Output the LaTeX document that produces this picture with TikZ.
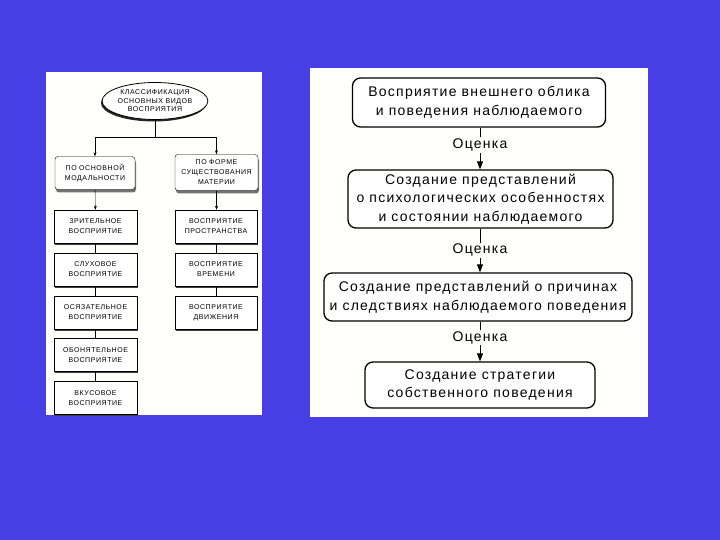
\documentclass[tikz,border=0pt]{standalone}
\usepackage{fontspec}
\setmainfont{Liberation Sans}
\newfontfamily\flowfont[LetterSpace=9]{Liberation Sans}
\newfontfamily\capsfont[LetterSpace=8]{Liberation Sans}
\usepackage{tikz}
\usetikzlibrary{shapes.geometric,arrows.meta,shadows}
\definecolor{slideblue}{RGB}{72,62,230}
\definecolor{sheetwhite}{RGB}{255,255,251}

\begin{document}
\begin{tikzpicture}[x=1pt,y=-1pt,
    classnode/.style={ellipse, draw, thick, fill=white, minimum width=100pt, minimum height=37pt,
        inner sep=0pt, align=center, font=\capsfont\fontsize{7}{8.5}\selectfont,
        drop shadow={shadow xshift=-1.2pt, shadow yshift=-2pt, fill=black!85, opacity=1}},
    groupbox/.style={rectangle, rounded corners=3pt, draw, fill=white, inner sep=0pt, align=center,
        font=\capsfont\fontsize{7}{10}\selectfont,
        drop shadow={shadow xshift=1pt, shadow yshift=-3pt, fill=black!55, opacity=1}},
    leafbox/.style={rectangle, draw, fill=white, minimum height=33pt, inner sep=0pt, align=center,
        font=\capsfont\fontsize{7}{10}\selectfont,
        drop shadow={shadow xshift=0.8pt, shadow yshift=-1.5pt, fill=black!75, opacity=1}},
    stagebox/.style={rectangle, rounded corners=8pt, draw, line width=1.3pt, fill=white, inner sep=0pt,
        align=center, font=\flowfont\fontsize{14}{18.5}\selectfont},
    marklabel/.style={fill=sheetwhite, inner sep=1.5pt, font=\flowfont\fontsize{14}{16}\selectfont},
    treeline/.style={draw, -{Stealth[length=4pt,width=3pt]}},
    flowline/.style={draw, line width=0.9pt, -{Triangle[length=8pt,width=6pt]}}
]
    % --- slide background ---
    \fill[slideblue] (0,0) rectangle (720,540);
    \fill[sheetwhite] (46,72) rectangle (262,415);
    \fill[sheetwhite] (310,68) rectangle (648,417);

    % --- classification tree (left) ---
    \node[classnode] (klass) at (155,101) {КЛАССИФИКАЦИЯ\\ОСНОВНЫХ ВИДОВ\\ВОСПРИЯТИЯ};

    \node[groupbox, minimum width=80pt, minimum height=33pt] (modal) at (95,173)
        {ПО ОСНОВНОЙ\\МОДАЛЬНОСТИ};
    \node[groupbox, minimum width=83pt, minimum height=36pt] (forma) at (216.5,172.5)
        {ПО ФОРМЕ\\СУЩЕСТВОВАНИЯ\\МАТЕРИИ};

    \draw (klass.south) -- (155,137) coordinate (split);
    \draw[treeline] (split) -| (modal.north);
    \draw[treeline] (split) -| (forma.north);

    % modalities
    \foreach \nm/\txt/\yc in {vis/{ЗРИТЕЛЬНОЕ\\ВОСПРИЯТИЕ}/226.5,
        aud/{СЛУХОВОЕ\\ВОСПРИЯТИЕ}/269.5,
        tac/{ОСЯЗАТЕЛЬНОЕ\\ВОСПРИЯТИЕ}/312.5,
        olf/{ОБОНЯТЕЛЬНОЕ\\ВОСПРИЯТИЕ}/355,
        gus/{ВКУСОВОЕ\\ВОСПРИЯТИЕ}/398}{
        \node[leafbox, minimum width=83pt] (\nm) at (95.5,\yc) {\txt};
    }
    % forms of matter
    \foreach \nm/\txt/\yc in {spa/{ВОСПРИЯТИЕ\\ПРОСТРАНСТВА}/226.5,
        tim/{ВОСПРИЯТИЕ\\ВРЕМЕНИ}/269.5,
        mot/{ВОСПРИЯТИЕ\\ДВИЖЕНИЯ}/312.5}{
        \node[leafbox, minimum width=82pt] (\nm) at (216,\yc) {\txt};
    }

    \draw[treeline] (modal) -- (vis);
    \draw[treeline] (forma.south) -- (forma.south |- spa.north);
    \foreach \a/\b in {vis/aud,aud/tac,tac/olf,olf/gus,spa/tim,tim/mot}
        \draw (\a) -- (\b);

    % --- stages of perception (right) ---
    \node[stagebox, minimum width=253pt, minimum height=49pt] (look) at (479,102.5)
        {Восприятие внешнего облика\\и поведения наблюдаемого};
    \node[stagebox, minimum width=265pt, minimum height=58pt] (psych) at (480.5,199)
        {Создание представлений\\о психологических особенностях\\и состоянии наблюдаемого};
    \node[stagebox, minimum width=308pt, minimum height=48pt] (cause) at (478,297)
        {Создание представлений о причинах\\и следствиях наблюдаемого поведения};
    \node[stagebox, minimum width=230pt, minimum height=46pt] (plan) at (480,385)
        {Создание стратегии\\собственного поведения};

    \draw[flowline] (look.south -| 480,0) -- (psych.north -| 480,0)
        node[marklabel, pos=0.42] (mark1) {Оценка};
    \draw[flowline] (psych.south -| 480,0) -- (cause.north -| 480,0)
        node[marklabel, pos=0.5] (mark2) {Оценка};
    \draw[flowline] (cause.south -| 480,0) -- (plan.north -| 480,0)
        node[marklabel, pos=0.4] (mark3) {Оценка};
\end{tikzpicture}
\end{document}
